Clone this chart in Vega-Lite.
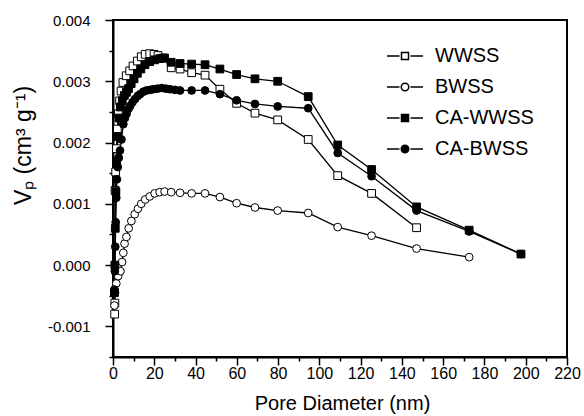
{
  "$schema": "https://vega.github.io/schema/vega-lite/v6.json",
  "width": 454,
  "height": 337,
  "autosize": {"type": "none"},
  "padding": {"left": 113, "top": 20, "right": 17, "bottom": 59},
  "background": "white",
  "config": {
    "view": {"stroke": "black", "strokeWidth": 2},
    "font": "Liberation Sans",
    "axis": {"grid": false, "domainColor": "black", "domainWidth": 2, "tickColor": "black", "tickWidth": 1.5, "labelColor": "black", "titleColor": "black", "labelFont": "Liberation Sans", "titleFont": "Liberation Sans", "titleFontWeight": "normal"}
  },
  "datasets": {
    "pts": [
      {"s":"WWSS","x":0.8,"y":-0.0008},{"s":"WWSS","x":0.9,"y":-0.00062},{"s":"WWSS","x":1.0,"y":0.00122},{"s":"WWSS","x":1.3,"y":0.00152},{"s":"WWSS","x":1.7,"y":0.0019},{"s":"WWSS","x":2.1,"y":0.00222},{"s":"WWSS","x":2.6,"y":0.00247},{"s":"WWSS","x":3.2,"y":0.00268},{"s":"WWSS","x":3.9,"y":0.00284},{"s":"WWSS","x":4.8,"y":0.00298},{"s":"WWSS","x":6.4,"y":0.00309},{"s":"WWSS","x":8.1,"y":0.00317},{"s":"WWSS","x":9.7,"y":0.00325},{"s":"WWSS","x":11.8,"y":0.00333},{"s":"WWSS","x":13.7,"y":0.0034},{"s":"WWSS","x":15.6,"y":0.00344},{"s":"WWSS","x":17.8,"y":0.00345},{"s":"WWSS","x":19.9,"y":0.00344},{"s":"WWSS","x":21.8,"y":0.00342},{"s":"WWSS","x":24.2,"y":0.00338},{"s":"WWSS","x":28.2,"y":0.00322},{"s":"WWSS","x":32.5,"y":0.0032},{"s":"WWSS","x":38.1,"y":0.00314},{"s":"WWSS","x":44.6,"y":0.0031},{"s":"WWSS","x":51.8,"y":0.00287},{"s":"WWSS","x":59.9,"y":0.00264},{"s":"WWSS","x":68.8,"y":0.00248},{"s":"WWSS","x":79.8,"y":0.00237},{"s":"WWSS","x":94.6,"y":0.00205},{"s":"WWSS","x":108.9,"y":0.00146},{"s":"WWSS","x":125.3,"y":0.00117},{"s":"WWSS","x":147.1,"y":0.00061},
      {"s":"BWSS","x":0.7,"y":-0.00066},{"s":"BWSS","x":1.0,"y":-0.00045},{"s":"BWSS","x":1.6,"y":-0.0003},{"s":"BWSS","x":2.5,"y":-0.00018},{"s":"BWSS","x":3.6,"y":-0.0001},{"s":"BWSS","x":4.4,"y":0.00005},{"s":"BWSS","x":5.0,"y":0.0002},{"s":"BWSS","x":5.6,"y":0.00035},{"s":"BWSS","x":6.5,"y":0.00046},{"s":"BWSS","x":7.6,"y":0.0006},{"s":"BWSS","x":8.9,"y":0.00072},{"s":"BWSS","x":10.5,"y":0.00083},{"s":"BWSS","x":12.1,"y":0.00092},{"s":"BWSS","x":13.7,"y":0.001},{"s":"BWSS","x":15.6,"y":0.00107},{"s":"BWSS","x":17.8,"y":0.00112},{"s":"BWSS","x":20.2,"y":0.00117},{"s":"BWSS","x":22.6,"y":0.00119},{"s":"BWSS","x":25,"y":0.0012},{"s":"BWSS","x":28.2,"y":0.00119},{"s":"BWSS","x":32.5,"y":0.00118},{"s":"BWSS","x":38.1,"y":0.00117},{"s":"BWSS","x":44.6,"y":0.00117},{"s":"BWSS","x":51.8,"y":0.00111},{"s":"BWSS","x":59.9,"y":0.00101},{"s":"BWSS","x":68.8,"y":0.00094},{"s":"BWSS","x":79.8,"y":0.00089},{"s":"BWSS","x":94.6,"y":0.00085},{"s":"BWSS","x":108.9,"y":0.00062},{"s":"BWSS","x":125.3,"y":0.00048},{"s":"BWSS","x":147.1,"y":0.00027},{"s":"BWSS","x":172.6,"y":0.00013},
      {"s":"CA-WWSS","x":0.7,"y":-0.00045},{"s":"CA-WWSS","x":0.9,"y":0.0},{"s":"CA-WWSS","x":1.1,"y":0.0006},{"s":"CA-WWSS","x":1.4,"y":0.0012},{"s":"CA-WWSS","x":1.8,"y":0.0017},{"s":"CA-WWSS","x":2.3,"y":0.0021},{"s":"CA-WWSS","x":2.9,"y":0.0024},{"s":"CA-WWSS","x":3.6,"y":0.00258},{"s":"CA-WWSS","x":4.5,"y":0.00268},{"s":"CA-WWSS","x":5.5,"y":0.00277},{"s":"CA-WWSS","x":6.5,"y":0.00282},{"s":"CA-WWSS","x":7.5,"y":0.00288},{"s":"CA-WWSS","x":8.8,"y":0.00296},{"s":"CA-WWSS","x":10.2,"y":0.00304},{"s":"CA-WWSS","x":11.8,"y":0.00313},{"s":"CA-WWSS","x":13.5,"y":0.0032},{"s":"CA-WWSS","x":15.5,"y":0.00327},{"s":"CA-WWSS","x":17.8,"y":0.00332},{"s":"CA-WWSS","x":20.2,"y":0.00335},{"s":"CA-WWSS","x":22.6,"y":0.00337},{"s":"CA-WWSS","x":25,"y":0.00338},{"s":"CA-WWSS","x":28.2,"y":0.00331},{"s":"CA-WWSS","x":32.5,"y":0.00329},{"s":"CA-WWSS","x":38.1,"y":0.00328},{"s":"CA-WWSS","x":44.6,"y":0.00327},{"s":"CA-WWSS","x":51.8,"y":0.0032},{"s":"CA-WWSS","x":59.9,"y":0.00311},{"s":"CA-WWSS","x":68.8,"y":0.00304},{"s":"CA-WWSS","x":79.8,"y":0.003},{"s":"CA-WWSS","x":94.6,"y":0.00275},{"s":"CA-WWSS","x":108.9,"y":0.00196},{"s":"CA-WWSS","x":125.3,"y":0.00156},{"s":"CA-WWSS","x":147.1,"y":0.00095},{"s":"CA-WWSS","x":172.6,"y":0.00057},{"s":"CA-WWSS","x":197.7,"y":0.00018},
      {"s":"CA-BWSS","x":0.7,"y":-0.0004},{"s":"CA-BWSS","x":0.9,"y":-0.0001},{"s":"CA-BWSS","x":1.1,"y":0.0003},{"s":"CA-BWSS","x":1.3,"y":0.0007},{"s":"CA-BWSS","x":1.6,"y":0.0011},{"s":"CA-BWSS","x":1.9,"y":0.0014},{"s":"CA-BWSS","x":2.3,"y":0.0016},{"s":"CA-BWSS","x":2.8,"y":0.00175},{"s":"CA-BWSS","x":3.4,"y":0.00187},{"s":"CA-BWSS","x":4.1,"y":0.00205},{"s":"CA-BWSS","x":5.0,"y":0.0023},{"s":"CA-BWSS","x":5.8,"y":0.0024},{"s":"CA-BWSS","x":6.6,"y":0.00247},{"s":"CA-BWSS","x":7.5,"y":0.00255},{"s":"CA-BWSS","x":8.4,"y":0.0026},{"s":"CA-BWSS","x":9.5,"y":0.00266},{"s":"CA-BWSS","x":10.7,"y":0.00271},{"s":"CA-BWSS","x":12,"y":0.00276},{"s":"CA-BWSS","x":13.1,"y":0.00279},{"s":"CA-BWSS","x":14.7,"y":0.00283},{"s":"CA-BWSS","x":16.3,"y":0.00285},{"s":"CA-BWSS","x":18,"y":0.00286},{"s":"CA-BWSS","x":19.5,"y":0.00287},{"s":"CA-BWSS","x":21.5,"y":0.00288},{"s":"CA-BWSS","x":23.6,"y":0.00289},{"s":"CA-BWSS","x":25.6,"y":0.00288},{"s":"CA-BWSS","x":27.6,"y":0.00287},{"s":"CA-BWSS","x":30,"y":0.00286},{"s":"CA-BWSS","x":32.5,"y":0.00285},{"s":"CA-BWSS","x":38.1,"y":0.00285},{"s":"CA-BWSS","x":44.6,"y":0.00285},{"s":"CA-BWSS","x":51.8,"y":0.00279},{"s":"CA-BWSS","x":59.9,"y":0.00269},{"s":"CA-BWSS","x":68.8,"y":0.00263},{"s":"CA-BWSS","x":79.8,"y":0.00259},{"s":"CA-BWSS","x":94.6,"y":0.00256},{"s":"CA-BWSS","x":108.9,"y":0.00183},{"s":"CA-BWSS","x":125.3,"y":0.00145},{"s":"CA-BWSS","x":147.1,"y":0.00089},{"s":"CA-BWSS","x":172.6,"y":0.00055},{"s":"CA-BWSS","x":197.7,"y":0.00018}
    ]
  },
  "data": {"name": "pts"},
  "encoding": {
    "x": {
      "field": "x", "type": "quantitative",
      "scale": {"domain": [0, 220], "nice": false, "zero": false},
      "axis": {
        "values": [0,10,20,30,40,50,60,70,80,90,100,110,120,130,140,150,160,170,180,190,200,210,220],
        "labelExpr": "datum.value % 20 === 0 ? datum.label : ''",
        "tickSize": {"condition": {"test": "datum.value % 20 === 0", "value": 8}, "value": 4},
        "labelFontSize": 16, "labelPadding": 0, "labelFlush": false, "labelOverlap": false,
        "title": "Pore Diameter (nm)", "titleFontSize": 20, "titleX": 229, "titleY": 46, "titleBaseline": "middle", "titleAnchor": null
      }
    },
    "y": {
      "field": "y", "type": "quantitative",
      "scale": {"domain": [-0.0015, 0.004], "nice": false, "zero": false},
      "axis": {
        "values": [-0.0015,-0.001,-0.0005,0,0.0005,0.001,0.0015,0.002,0.0025,0.003,0.0035,0.004],
        "labelExpr": "abs(round(datum.value*2000)) % 2 === 0 ? replace(format(datum.value, '.3f'), '−', '-') : ''",
        "tickSize": {"condition": {"test": "abs(round(datum.value*2000)) % 2 === 0", "value": 8}, "value": 4},
        "labelFontSize": 15, "labelPadding": 15, "labelFlush": false, "labelOverlap": false,
        "title": "Vₚ (cm³ g⁻¹)", "titleFontSize": 23, "titleX": -90, "titleY": 125, "titleAngle": -90, "titleAlign": "center", "titleBaseline": "middle"
      }
    }
  },
  "layer": [
    {
      "mark": {"type": "line", "color": "black", "strokeWidth": 1.3},
      "encoding": {"detail": {"field": "s"}, "order": {"field": "x", "type": "quantitative"}}
    },
    {
      "mark": {"type": "point", "filled": true, "stroke": "black", "strokeWidth": 1, "size": 60, "opacity": 1},
      "encoding": {
        "shape": {
          "field": "s", "type": "nominal",
          "scale": {"domain": ["WWSS","BWSS","CA-WWSS","CA-BWSS"], "range": ["square","circle","square","circle"]},
          "legend": null
        },
        "fill": {
          "field": "s", "type": "nominal",
          "scale": {"domain": ["WWSS","BWSS","CA-WWSS","CA-BWSS"], "range": ["white","white","black","black"]},
          "legend": null
        }
      }
    },
    {
      "transform": [{"filter": "false"}],
      "mark": {"type": "point", "filled": true, "stroke": "black", "strokeWidth": 1.5, "size": 100, "opacity": 1},
      "encoding": {
        "shape": {
          "field": "s", "type": "nominal",
          "scale": {"domain": ["WWSS","BWSS","CA-WWSS","CA-BWSS"], "range": [
            "M-3.6,0H-1.1M1.1,0H3.6M-0.7,-0.7H0.7V0.7H-0.7Z",
            "M-3.6,0H-1.1M1.1,0H3.6M0.75,0A0.75,0.75 0 1,1 -0.75,0A0.75,0.75 0 1,1 0.75,0Z",
            "M-3.6,0H-1.1M1.1,0H3.6M-0.7,-0.7H0.7V0.7H-0.7Z",
            "M-3.6,0H-1.1M1.1,0H3.6M0.75,0A0.75,0.75 0 1,1 -0.75,0A0.75,0.75 0 1,1 0.75,0Z"
          ]},
          "legend": {
            "orient": "none", "legendX": 282, "legendY": 26, "title": null, "padding": 0,
            "symbolSize": 100, "symbolStrokeColor": "black", "symbolStrokeWidth": 1.5, "symbolOpacity": 1,
            "labelFontSize": 20, "labelFont": "Liberation Sans", "labelColor": "black", "labelOffset": 20, "rowPadding": 11,
            "encode": {"symbols": {"update": {"stroke": {"value": "black"}, "strokeWidth": {"value": 1.5}, "opacity": {"value": 1}}}}
          }
        },
        "fill": {
          "field": "s", "type": "nominal",
          "scale": {"domain": ["WWSS","BWSS","CA-WWSS","CA-BWSS"], "range": ["white","white","black","black"]},
          "legend": {
            "orient": "none", "legendX": 282, "legendY": 26, "title": null, "padding": 0,
            "symbolSize": 100, "symbolStrokeColor": "black", "symbolStrokeWidth": 1.5, "symbolOpacity": 1,
            "labelFontSize": 20, "labelFont": "Liberation Sans", "labelColor": "black", "labelOffset": 20, "rowPadding": 11,
            "encode": {"symbols": {"update": {"stroke": {"value": "black"}, "strokeWidth": {"value": 1.5}, "opacity": {"value": 1}}}}
          }
        }
      }
    }
  ],
  "resolve": {"scale": {"shape": "independent", "fill": "independent"}}
}
